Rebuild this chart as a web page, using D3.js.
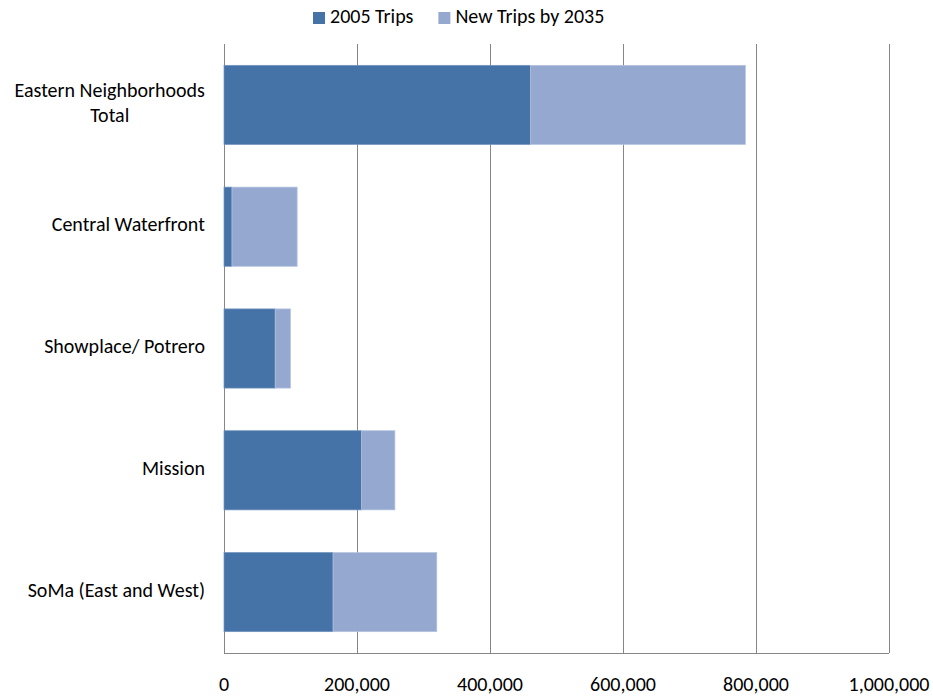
<!DOCTYPE html>
<html>
<head>
<meta charset="utf-8">
<script src="https://cdn.jsdelivr.net/npm/d3@7"></script>
<style>
  body { margin: 0; background: #fff; }
  svg { font-family: Carlito, Calibri, Lato, sans-serif; }
</style>
</head>
<body>
<div id="chart"></div>
<script>
// categories top to bottom
const categories = ['Eastern Neighborhoods Total', 'Central Waterfront', 'Showplace/ Potrero', 'Mission', 'SoMa (East and West)'];
const labelLines = [['Eastern Neighborhoods', 'Total'], ['Central Waterfront'], ['Showplace/ Potrero'], ['Mission'], ['SoMa (East and West)']];
const trips2005 = [461000, 12000, 77000, 207000, 164000];
const newTrips2035 = [323000, 98000, 23000, 50000, 156000];
const seriesNames = ['2005 Trips', 'New Trips by 2035'];
const xTicks = [0, 200000, 400000, 600000, 800000, 1000000];

const w = 933, h = 700;
const pLeft = 224, pRight = 889, pTop = 44, pBottom = 653;
const colors = ['#4673a7', '#95a9d0'];
const fs = 20;

const svg = d3.select('#chart').append('svg').attr('width', w).attr('height', h);

const x = d3.scaleLinear().domain([0, 1000000]).range([pLeft, pRight]);
const y = d3.scaleBand().domain(categories).range([pTop, pBottom]).paddingInner(0.35).paddingOuter(0.175);

// gridlines
svg.append('g').selectAll('line').data(xTicks).enter().append('line')
    .attr('x1', d => x(d)).attr('x2', d => x(d))
    .attr('y1', pTop).attr('y2', pBottom)
    .attr('stroke', '#868686').attr('stroke-width', 1)
    .attr('shape-rendering', 'crispEdges');

// bottom axis line
svg.append('line').attr('x1', pLeft).attr('x2', pRight).attr('y1', pBottom).attr('y2', pBottom)
    .attr('stroke', '#868686').attr('shape-rendering', 'crispEdges');

const rows = categories.map((c, i) => ({ cat: c, a: trips2005[i], b: newTrips2035[i] }));

svg.append('g').selectAll('rect').data(rows).enter().append('rect')
    .attr('x', x(0)).attr('y', d => y(d.cat))
    .attr('width', d => x(d.a) - x(0)).attr('height', y.bandwidth())
    .attr('fill', colors[0]).attr('stroke', '#6f93bf').attr('stroke-width', 0.7);

svg.append('g').selectAll('rect').data(rows).enter().append('rect')
    .attr('x', d => x(d.a)).attr('y', d => y(d.cat))
    .attr('width', d => x(d.a + d.b) - x(d.a)).attr('height', y.bandwidth())
    .attr('fill', colors[1]).attr('stroke', '#b4c3e0').attr('stroke-width', 0.7);

// x tick labels
const fmt = d3.format(',');
svg.append('g').selectAll('text').data(xTicks).enter().append('text')
    .attr('x', d => x(d)).attr('y', 686)
    .attr('text-anchor', 'middle').attr('dominant-baseline', 'middle')
    .attr('font-size', fs).attr('fill', '#000')
    .text(d => fmt(d));

// category labels
const lab = svg.append('g');
categories.forEach((c, i) => {
    const lines = labelLines[i];
    const cy = y(c) + y.bandwidth() / 2;
    const t = lab.append('text').attr('font-size', fs).attr('fill', '#000')
        .attr('text-anchor', 'middle');
    lines.forEach((ln, j) => {
        t.append('tspan').attr('x', 0).attr('y', cy + (j - (lines.length - 1) / 2) * 25)
            .attr('dominant-baseline', 'middle').text(ln);
    });
    // right-align the centred block to x≈205
    const bb = t.node().getBBox();
    t.selectAll('tspan').attr('x', 205 - bb.width / 2);
});

// legend
const legend = svg.append('g');
let lx = 313;
seriesNames.forEach((s, i) => {
    legend.append('rect').attr('x', lx).attr('y', 12).attr('width', 12).attr('height', 12).attr('fill', colors[i]);
    const t = legend.append('text').attr('x', lx + 17).attr('y', 18.5)
        .attr('dominant-baseline', 'middle').attr('font-size', fs).text(s);
    lx += 17 + t.node().getComputedTextLength() + 25;
});
</script>
</body>
</html>
